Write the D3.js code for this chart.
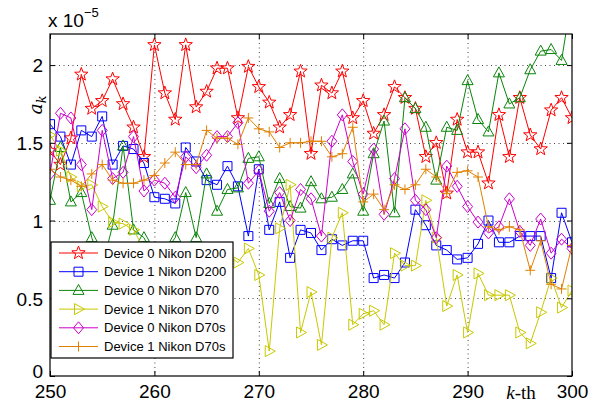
<!DOCTYPE html>
<html>
<head>
<meta charset="utf-8">
<script src="https://cdn.jsdelivr.net/npm/d3@7"></script>
<style>
    body { margin: 0; background: #fff; }
    svg { display: block; }
    .tick text { font-family: "Liberation Sans", Arial, sans-serif; font-size: 19px; fill: #000; }
</style>
</head>
<body>
<div id="chart"></div>
<script>
// k index (x axis)
const kValues = d3.range(250, 301);

// a_k values, in units of 1e-5
const d200Dev0 = [1.45,1.36,1.53,1.94,1.72,1.77,1.91,1.75,1.60,1.41,
    2.13,1.82,1.65,2.13,1.73,1.83,1.98,1.98,1.66,1.99,
    1.86,1.76,1.60,1.68,1.96,1.43,1.87,1.82,1.96,1.66,
    1.77,1.56,1.68,1.86,1.79,1.72,1.41,1.50,1.175,1.65,
    1.44,1.44,1.24,1.68,1.41,1.79,1.55,1.46,1.71,1.79,1.66];
const d200Dev1 = [1.62,1.54,1.36,1.58,1.54,1.67,1.36,1.48,1.46,1.37,
    1.15,1.14,1.11,1.47,1.38,1.26,1.23,1.35,1.22,0.90,
    1.33,0.94,1.12,0.76,0.94,0.92,0.81,0.88,0.84,0.87,
    0.87,0.63,0.65,0.63,0.73,1.07,0.97,0.84,0.81,0.75,
    0.76,0.85,1.00,0.86,0.86,0.90,0.90,0.90,0.63,1.05,0.86];
const d70Dev0 = [1.13,1.47,1.12,1.18,0.89,0.70,0.97,1.48,0.94,0.89,
    0.75,0.80,0.89,1.18,0.89,1.30,1.06,1.20,1.21,1.40,
    1.41,1.11,1.27,1.09,1.08,1.25,1.14,1.15,1.20,1.30,
    1.06,1.43,1.64,1.05,1.79,1.72,1.60,1.26,1.60,1.58,
    1.90,1.65,1.57,1.95,1.75,1.79,1.97,2.09,2.10,2.03,2.45];
const d70Dev1 = [1.55,1.45,1.28,1.22,1.23,1.09,0.99,0.98,0.94,0.82,
    0.60,0.70,0.50,0.62,0.70,0.55,0.66,0.78,0.73,0.82,
    0.65,0.16,0.95,1.23,0.28,0.54,0.20,0.89,1.05,0.33,
    0.40,0.42,0.33,0.79,0.71,0.71,1.13,0.89,0.45,0.65,
    0.28,0.66,0.52,0.52,0.52,0.28,0.21,0.41,0.63,0.44,0.55];
const d70sDev0 = [1.30,1.69,1.66,1.36,1.07,1.58,1.27,1.31,1.54,1.19,
    1.26,1.24,1.15,1.41,1.34,1.42,1.54,1.54,1.63,1.24,
    1.32,1.06,1.18,1.00,1.20,1.14,0.90,1.51,1.68,1.38,
    1.17,1.46,1.04,1.27,1.59,1.13,1.07,0.89,1.35,1.22,
    1.09,0.99,0.92,0.96,1.14,0.93,0.84,1.01,0.79,0.88,0.82];
const d70sDev1 = [1.33,1.28,1.26,1.22,1.30,1.36,1.26,1.24,1.24,1.26,
    1.29,1.37,1.44,1.36,1.36,1.58,1.53,1.53,1.49,1.66,
    1.59,1.57,1.47,1.50,1.50,1.51,1.51,1.41,1.43,1.60,
    1.12,1.17,1.07,1.23,1.20,1.23,1.33,1.28,1.175,1.31,
    1.32,1.28,0.96,0.94,0.96,0.94,0.68,0.87,0.59,0.56,0.84];

const seriesNames = ["Device 0 Nikon D200", "Device 1 Nikon D200", "Device 0 Nikon D70",
    "Device 1 Nikon D70", "Device 0 Nikon D70s", "Device 1 Nikon D70s"];
const xTicks = [250, 260, 270, 280, 290, 300];
const yTicks = [0, 0.5, 1, 1.5, 2];

const series = [
    { name: seriesNames[0], values: d200Dev0, color: "#ff0000", marker: "star" },
    { name: seriesNames[1], values: d200Dev1, color: "#0000ff", marker: "square" },
    { name: seriesNames[2], values: d70Dev0, color: "#0a850a", marker: "triUp" },
    { name: seriesNames[3], values: d70Dev1, color: "#c8c800", marker: "triRight" },
    { name: seriesNames[4], values: d70sDev0, color: "#cc00cc", marker: "diamond" },
    { name: seriesNames[5], values: d70sDev1, color: "#e08000", marker: "plus" }
];

// marker shapes, centred on 0,0
function markerPath(type) {
    if (type === "star") {
        const pts = [];
        for (let i = 0; i < 10; i++) {
            const r = i % 2 === 0 ? 7 : 2.9;
            const a = -Math.PI / 2 + i * Math.PI / 5;
            pts.push([r * Math.cos(a), r * Math.sin(a)]);
        }
        return "M" + pts.map(p => p.join(",")).join("L") + "Z";
    }
    if (type === "square") return "M-4.5,-4.5H4.5V4.5H-4.5Z";
    if (type === "triUp") return "M0,-6L5.5,4L-5.5,4Z";
    if (type === "triRight") return "M6,0L-4,-5.5L-4,5.5Z";
    if (type === "diamond") return "M0,-6L5,0L0,6L-5,0Z";
    return "M-5,0H5M0,-5V5";
}

const W = 605, H = 408;
const m = { left: 50, right: 33, top: 34, bottom: 32 };

const svg = d3.select("#chart").append("svg").attr("width", W).attr("height", H);

const x = d3.scaleLinear().domain([250, 300]).range([m.left, W - m.right]);
const y = d3.scaleLinear().domain([0, 2.2]).range([H - m.bottom, m.top]);

const x0 = x.range()[0], x1 = x.range()[1];
const yB = y.range()[0], yT = y.range()[1];

svg.append("defs").append("clipPath").attr("id", "plotClip")
    .append("rect").attr("x", x0).attr("y", yT).attr("width", x1 - x0).attr("height", yB - yT);

// dotted grid
const grid = svg.append("g").attr("stroke", "#444").attr("stroke-width", 1).attr("stroke-dasharray", "1,3.5");
grid.selectAll(".gx").data(xTicks.slice(1, -1)).join("line")
    .attr("x1", d => x(d) + 0.5).attr("x2", d => x(d) + 0.5).attr("y1", yT).attr("y2", yB);
grid.selectAll(".gy").data(yTicks.slice(1)).join("line")
    .attr("y1", d => Math.round(y(d)) + 0.5).attr("y2", d => Math.round(y(d)) + 0.5).attr("x1", x0).attr("x2", x1);

// series
const plot = svg.append("g").attr("clip-path", "url(#plotClip)");
const line = d3.line().x((d, i) => x(kValues[i])).y(d => y(d));

series.forEach(s => {
    const g = plot.append("g");
    g.append("path").attr("d", line(s.values))
        .attr("fill", "none").attr("stroke", s.color).attr("stroke-width", 1);
    g.selectAll("path.mk").data(s.values).join("path").attr("class", "mk")
        .attr("d", markerPath(s.marker))
        .attr("transform", (d, i) => `translate(${x(kValues[i])},${y(d)})`)
        .attr("fill", "none").attr("stroke", s.color).attr("stroke-width", 1);
});

// axes with inward ticks
const xAxis = d3.axisBottom(x).tickValues(xTicks).tickSizeInner(-5).tickSizeOuter(0).tickPadding(9);
const yAxis = d3.axisLeft(y).tickValues(yTicks).tickSizeInner(-5).tickSizeOuter(0).tickPadding(7)
    .tickFormat(d3.format("~g"));

const gx = svg.append("g").attr("transform", `translate(0,${yB})`).call(xAxis);
gx.select(".domain").remove();
const gy = svg.append("g").attr("transform", `translate(${x0},0)`).call(yAxis);
gy.select(".domain").remove();
gy.selectAll(".tick text").attr("dy", d => d === 0 ? "0.08em" : "0.36em");

// mirrored ticks on top and right
svg.append("g").attr("transform", `translate(0,${yT})`)
    .call(d3.axisTop(x).tickValues(xTicks).tickSizeInner(-5).tickSizeOuter(0).tickFormat(""))
    .select(".domain").remove();
svg.append("g").attr("transform", `translate(${x1},0)`)
    .call(d3.axisRight(y).tickValues(yTicks).tickSizeInner(-5).tickSizeOuter(0).tickFormat(""))
    .select(".domain").remove();

// box
svg.append("rect").attr("x", x0).attr("y", yT).attr("width", x1 - x0).attr("height", yB - yT)
    .attr("fill", "none").attr("stroke", "#000").attr("stroke-width", 1.2);

// exponent label
const expo = svg.append("text").attr("x", 48).attr("y", 27)
    .attr("font-family", "Liberation Sans, Arial, sans-serif").attr("font-size", 19);
expo.append("tspan").text("x 10");
expo.append("tspan").attr("font-size", 13).attr("dy", -10).text("\u22125");

// axis titles
const yl = svg.append("text").attr("transform", "translate(42,105) rotate(-90)")
    .attr("text-anchor", "middle").attr("font-family", "DejaVu Serif, serif").attr("font-size", 19)
    .attr("font-style", "italic");
yl.append("tspan").text("a");
yl.append("tspan").attr("font-size", 13).attr("dy", 4).text("k");

const xl = svg.append("text").attr("x", 521).attr("y", 399).attr("text-anchor", "middle")
    .attr("font-family", "Liberation Serif, serif").attr("font-size", 19);
xl.append("tspan").attr("font-style", "italic").text("k");
xl.append("tspan").text("-th");

// legend
const lg = svg.append("g").attr("transform", "translate(51,242)");
lg.append("rect").attr("width", 182).attr("height", 116)
    .attr("fill", "#fff").attr("stroke", "#000").attr("stroke-width", 1.2);
series.forEach((s, i) => {
    const row = lg.append("g").attr("transform", `translate(0,${11 + i * 18.7})`);
    row.append("line").attr("x1", 8).attr("x2", 47).attr("stroke", s.color).attr("stroke-width", 1);
    row.append("path").attr("d", markerPath(s.marker)).attr("transform", "translate(27.5,0)")
        .attr("fill", "none").attr("stroke", s.color).attr("stroke-width", 1);
    row.append("text").attr("x", 53).attr("dy", "0.36em")
        .attr("font-family", "Liberation Sans, Arial, sans-serif").attr("font-size", 13)
        .text(s.name);
});
</script>
</body>
</html>
